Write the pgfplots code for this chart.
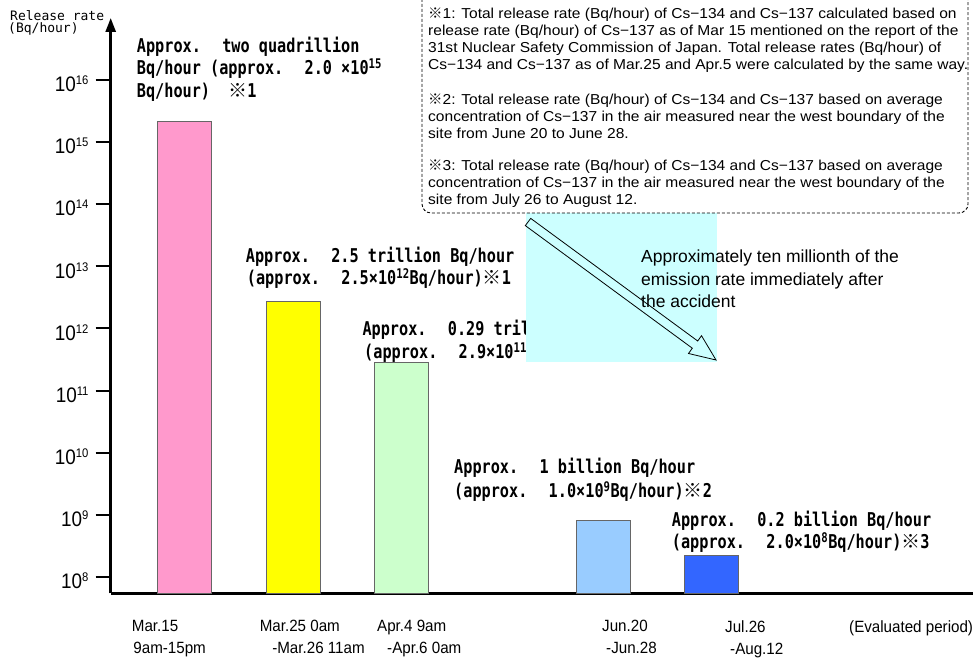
\documentclass[border=0pt]{standalone}
\usepackage{pgfplots}
\pgfplotsset{compat=1.18}
\usetikzlibrary{arrows.meta}
\usepackage{fontspec}
\setmainfont{Liberation Sans}
\newfontfamily\monob{DejaVu Sans Mono}[FakeStretch=0.8]
\newfontfamily\mono{DejaVu Sans Mono}
\newfontfamily\cjk{Noto Sans CJK JP}
\newfontfamily\xfont{Liberation Sans}[FakeStretch=0.93]
\newfontfamily\fnfont{Liberation Sans}[FakeStretch=1.08]
\newfontfamily\tickfont{Liberation Sans}[FakeStretch=0.9]
\newcommand\kome{{\cjk ※}}
\newcommand\ysup[1]{\raisebox{7pt}{\fontsize{12.5}{12.5}\selectfont #1}}
\definecolor{barpink}{HTML}{FF99CC}
\definecolor{baryellow}{HTML}{FFFF00}
\definecolor{bargreen}{HTML}{CCFFCC}
\definecolor{barlblue}{HTML}{99CCFF}
\definecolor{barblue}{HTML}{3366FF}
\definecolor{cyanbg}{HTML}{CCFFFF}
\begin{document}
\begin{tikzpicture}
\useasboundingbox (0pt,0pt) rectangle (980pt,661pt);
\begin{axis}[
  at={(110.7pt,67.7pt)}, anchor=south west,
  scale only axis, width=862.3pt, height=575.3pt,
  xmin=110.7, xmax=973,
  ymode=log, ymin=5.42e7, ymax=1e17, log origin=infty,
  axis x line=bottom, axis y line=left,
  axis line style={line width=2.6pt, black},
  x axis line style={-},
  y axis line style={-{Triangle[length=14pt,width=10pt]}},
  ytick={1e8,1e9,1e10,1e11,1e12,1e13,1e14,1e15,1e16},
  yticklabels={10\ysup{8},10\ysup{9},10\ysup{10},10\ysup{11},10\ysup{12},10\ysup{13},10\ysup{14},10\ysup{15},10\ysup{16}},
  yminorticks=false,
  ytick align=outside, xtick align=inside,
  major tick length=15pt,
  ytick style={line width=2pt, black},
  xtick style={draw=none},
  yticklabel style={font=\tickfont\fontsize{21}{21}\selectfont, inner sep=0pt, xshift=-7pt, yshift=-4pt},
  xtick={131.7,259.6,377,602,725,849},
  xticklabels={{Mar.15\\\hspace*{1.5pt}9am-15pm},{Mar.25 0am\\\hspace*{12.5pt}-Mar.26 11am},{Apr.4 9am\\\hspace*{10pt}-Apr.6 0am},{Jun.20\\\hspace*{4pt}-Jun.28},{Jul.26\\\hspace*{5pt}-Aug.12},{(Evaluated period)}},
  xticklabel style={anchor=north west, align=left, inner sep=0pt, font=\xfont\fontsize{16.3}{22.3}\selectfont, yshift=-26.7pt},
]
\addplot[ybar, bar width=54pt, bar shift=0pt, fill=barpink, draw=black!60, line width=0.8pt] coordinates {(184.7,2.19e15)};
\addplot[ybar, bar width=54pt, bar shift=0pt, fill=baryellow, draw=black!60, line width=0.8pt] coordinates {(293,2.69e12)};
\addplot[ybar, bar width=54pt, bar shift=0pt, fill=bargreen, draw=black!60, line width=0.8pt] coordinates {(401,2.84e11)};
\addplot[ybar, bar width=54pt, bar shift=0pt, fill=barlblue, draw=black!60, line width=0.8pt] coordinates {(603.7,7.98e8)};
\addplot[ybar, bar width=54pt, bar shift=0pt, fill=barblue, draw=black!60, line width=0.8pt] coordinates {(711.5,2.21e8)};
\end{axis}
\begin{scope}[x=1pt, y=-1pt, shift={(0pt,661pt)}]
  % y axis title
  \node[anchor=base west, inner sep=0pt, font=\mono\fontsize{13}{13}\selectfont] at (10,20.5) {Release rate};
  \node[anchor=base west, inner sep=0pt, font=\mono\fontsize{13}{13}\selectfont] at (8,33) {(Bq/hour)};
  % bar labels
  \begin{scope}[every node/.style={anchor=base west, inner sep=0pt, font=\monob\bfseries\fontsize{19}{22}\selectfont}]
    \node at (136.7,52.7) {Approx.~ two quadrillion};
    \node at (136.7,75) {Bq/hour (approx.~ 2.0 ×10\textsuperscript{15}};
    \node at (136.7,97.3) {Bq/hour)~ \kome1};
    \node at (245.7,262.7) {Approx.~ 2.5 trillion Bq/hour};
    \node at (246.7,285) {(approx.~ 2.5×10\textsuperscript{12}Bq/hour)\kome1};
    \node at (362.3,336) {Approx.~ 0.29 trillion Bq/hour};
    \node at (364,358.3) {(approx.~ 2.9×10\textsuperscript{11}Bq/hour)\kome1};
    \node at (454,474) {Approx.~ 1 billion Bq/hour};
    \node at (454,498) {(approx.~ 1.0×10\textsuperscript{9}Bq/hour)\kome2};
    \node at (671.7,527) {Approx.~ 0.2 billion Bq/hour};
    \node at (671.7,549) {(approx.~ 2.0×10\textsuperscript{8}Bq/hour)\kome3};
  \end{scope}
  % cyan area and arrow
  \fill[cyanbg] (526,200) rectangle (717,362);
  \draw[line width=0.8pt, black] (530.7,218.4) -- (697.7,341.0) -- (701.5,335.7) -- (716,360) -- (688.5,353.5) -- (692.3,348.2) -- (525.3,225.6) -- cycle;
  \begin{scope}[every node/.style={anchor=base west, inner sep=0pt, font=\fontsize{17.5}{22}\selectfont}]
    \node at (641,263) {Approximately ten millionth of the};
    \node at (641,285.5) {emission rate immediately after};
    \node at (641,308) {the accident};
  \end{scope}
  % footnote box
  \filldraw[fill=white, draw=black, densely dashed, line width=0.9pt, rounded corners=9pt] (422,-20) rectangle (968,213);
  \begin{scope}[every node/.style={anchor=base west, inner sep=0pt, font=\fnfont\fontsize{14.4}{17}\selectfont}]
    \node at (428,19) {\kome1: Total release rate (Bq/hour) of Cs−134 and Cs−137 calculated based on};
    \node at (428,36) {release rate (Bq/hour) of Cs−137 as of Mar 15 mentioned on the report of the};
    \node at (428,53) {31st Nuclear Safety Commission of Japan. Total release rates (Bq/hour) of};
    \node at (428,70) {Cs−134 and Cs−137 as of Mar.25 and Apr.5 were calculated by the same way.};
    \node at (428,105) {\kome2: Total release rate (Bq/hour) of Cs−134 and Cs−137 based on average};
    \node at (428,122) {concentration of Cs−137 in the air measured near the west boundary of the};
    \node at (428,139) {site from June 20 to June 28.};
    \node at (428,171) {\kome3: Total release rate (Bq/hour) of Cs−134 and Cs−137 based on average};
    \node at (428,188) {concentration of Cs−137 in the air measured near the west boundary of the};
    \node at (428,205) {site from July 26 to August 12.};
  \end{scope}
\end{scope}
\end{tikzpicture}
\end{document}
